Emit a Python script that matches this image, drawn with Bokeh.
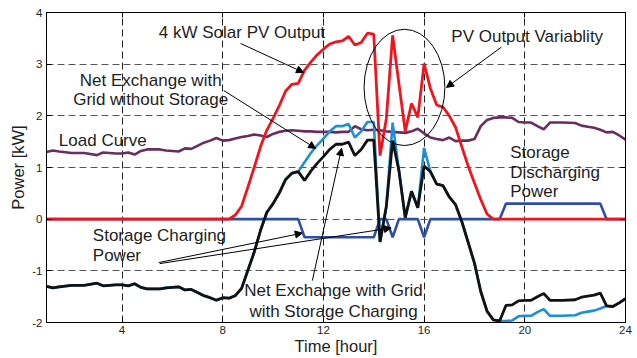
from bokeh.plotting import figure
from bokeh.models import Range1d, FixedTicker, Label, Arrow, NormalHead, LinearAxis
from bokeh.embed import file_html
from bokeh.resources import INLINE

# Time of day [hour]
hours = [1.0, 1.25, 1.5, 2.0, 2.5, 3.0, 3.25, 3.75, 4.0, 4.25, 4.5, 4.75, 5.0, 5.5, 5.75,
         6.25, 6.5, 6.75, 7.0, 7.25, 7.5, 7.75,
         8.0, 8.25, 8.5, 8.75, 9.0, 9.25, 9.5, 9.75, 10.0, 10.25, 10.5, 10.75,
         11.0, 11.25, 11.5, 11.75, 12.0, 12.25, 12.5, 12.75, 13.0, 13.25, 13.5, 13.75,
         14.0, 14.25, 14.5, 14.75, 15.0, 15.25, 15.5, 15.75, 16.0, 16.25, 16.5, 16.75,
         17.0, 17.25, 17.5, 17.75, 18.0, 18.25, 18.5, 18.75,
         19.0, 19.25, 19.5, 19.75, 20.0, 20.25, 20.5, 20.75, 21.0, 21.5,
         22.0, 22.25, 22.5, 22.75, 23.0, 23.25, 23.5, 23.75, 24.0]

# 4 kW rooftop PV output [kW]
pv_output = [0.0] * 24 + [
    0.08, 0.25, 0.62, 1.00, 1.40, 1.72, 1.95, 2.20, 2.48, 2.61,
    2.63, 2.88, 3.04, 3.18, 3.29, 3.39, 3.43, 3.45, 3.54, 3.37, 3.42, 3.60,
    3.58, 1.23, 1.95, 3.56, 2.62, 1.70, 2.24, 1.97, 3.01, 2.53, 2.21, 2.17,
    2.00, 1.78, 1.40, 1.03, 0.70, 0.38, 0.10, 0.0] + [0.0] * 19

# Household load [kW]
load_curve = [1.30, 1.33, 1.31, 1.28, 1.28, 1.24, 1.29, 1.27, 1.27, 1.29, 1.25, 1.32, 1.35, 1.35, 1.33,
              1.31, 1.37, 1.36, 1.42, 1.48, 1.52, 1.57,
              1.52, 1.53, 1.56, 1.59, 1.61, 1.64, 1.62, 1.59, 1.65, 1.69, 1.71, 1.72,
              1.71, 1.70, 1.70, 1.69, 1.69, 1.69, 1.68, 1.69, 1.69, 1.80, 1.74, 1.72,
              1.73, 1.72, 1.70, 1.69, 1.68, 1.67, 1.70, 1.75, 1.66, 1.58, 1.55, 1.53,
              1.58, 1.51, 1.52, 1.52, 1.55, 1.80, 1.92, 1.96,
              1.97, 1.97, 1.96, 1.88, 1.87, 1.87, 1.80, 1.74, 1.87, 1.87,
              1.86, 1.81, 1.79, 1.77, 1.73, 1.68, 1.69, 1.62, 1.54]

# Battery power [kW] (negative = charging, positive = discharging)
storage_power = ([0.0] * 35 + [-0.35] * 12 + [0.0, 0.0, -0.35, 0.0, 0.0, 0.0, 0.0, -0.35]
                 + [0.0] * 12 + [0.3] * 14 + [0.0] * 4)

# Net exchange with the grid, without storage [kW]
net_no_storage = [-1.30, -1.33, -1.31, -1.28, -1.28, -1.24, -1.29, -1.27, -1.27, -1.29, -1.25, -1.32,
                  -1.35, -1.35, -1.33, -1.31, -1.37, -1.36, -1.42, -1.48, -1.52, -1.57,
                  -1.52, -1.53, -1.48, -1.34, -0.99, -0.64, -0.22, 0.13, 0.30, 0.51, 0.77, 0.89,
                  0.92, 1.10, 1.28, 1.43, 1.56, 1.70, 1.80, 1.80, 1.84, 1.58, 1.70, 1.88,
                  1.88, -0.44, 0.25, 1.87, 0.94, 0.03, 0.54, 0.22, 1.38, 0.92, 0.68, 0.65,
                  0.43, 0.28, -0.05, -0.45, -0.85, -1.40, -1.78, -1.95,
                  -1.97, -1.97, -1.96, -1.88, -1.87, -1.87, -1.80, -1.74, -1.87, -1.87,
                  -1.86, -1.81, -1.79, -1.77, -1.73, -1.68, -1.69, -1.62, -1.54]

# Net exchange with the grid, with storage charging/discharging [kW]
net_with_storage = [-1.30, -1.33, -1.31, -1.28, -1.28, -1.24, -1.29, -1.27, -1.27, -1.29, -1.25, -1.32,
                    -1.35, -1.35, -1.33, -1.31, -1.37, -1.36, -1.42, -1.48, -1.52, -1.57,
                    -1.52, -1.53, -1.48, -1.34, -0.99, -0.64, -0.22, 0.13, 0.30, 0.51, 0.77, 0.89,
                    0.92, 0.75, 0.93, 1.08, 1.21, 1.35, 1.45, 1.45, 1.49, 1.23, 1.35, 1.53,
                    1.53, -0.44, 0.25, 1.52, 0.94, 0.03, 0.54, 0.22, 1.03, 0.92, 0.68, 0.65,
                    0.43, 0.28, -0.05, -0.45, -0.85, -1.40, -1.78, -1.95,
                    -1.97, -1.67, -1.66, -1.58, -1.57, -1.57, -1.50, -1.44, -1.57, -1.57,
                    -1.56, -1.51, -1.49, -1.47, -1.43, -1.68, -1.69, -1.62, -1.54]

x_ticks = [4, 8, 12, 16, 20, 24]
y_ticks = [-2, -1, 0, 1, 2, 3, 4]

FONT = "Liberation Sans"
TEXT_COLOR = "#1e1e1e"

p = figure(width=637, height=358, x_range=Range1d(1, 24), y_range=Range1d(-2, 4),
           output_backend="svg", toolbar_location=None,
           min_border_left=46, min_border_right=12, min_border_top=12, min_border_bottom=36)
p.background_fill_color = "white"
p.border_fill_color = "white"
p.outline_line_color = "black"
p.outline_line_width = 1

# axes
p.xaxis.ticker = FixedTicker(ticks=x_ticks)
p.yaxis.ticker = FixedTicker(ticks=y_ticks)
p.yaxis.major_label_overrides = {t: str(t) for t in y_ticks}
for ax in (p.xaxis[0], p.yaxis[0]):
    ax.major_label_text_font = FONT
    ax.major_label_text_font_size = "11.5px"
    ax.major_label_text_color = TEXT_COLOR
    ax.axis_label_text_font = FONT
    ax.axis_label_text_font_size = "16.5px"
    ax.axis_label_text_font_style = "normal"
    ax.axis_label_text_color = TEXT_COLOR
    ax.major_tick_in = 5
    ax.major_tick_out = 0
    ax.minor_tick_line_color = None
    ax.axis_line_color = "black"
    ax.major_tick_line_color = "black"
p.xaxis.axis_label = "Time [hour]"
p.yaxis.axis_label = "Power [kW]"
p.xaxis.major_label_standoff = 3
p.xaxis.axis_label_standoff = 0
p.yaxis.major_label_standoff = 4
p.yaxis.axis_label_standoff = 2

# tick marks on the top and right edges of the box (no labels there)
for side, tk in (("right", y_ticks), ("above", x_ticks)):
    a = LinearAxis(ticker=FixedTicker(ticks=tk), major_label_overrides={t: "" for t in tk},
                   major_tick_in=5, major_tick_out=0, minor_tick_line_color=None,
                   major_label_standoff=0, axis_line_color="black")
    p.add_layout(a, side)

# dashed grid
p.xgrid.ticker = FixedTicker(ticks=[4, 8, 12, 16, 20])
p.ygrid.ticker = FixedTicker(ticks=[-1, 0, 1, 2, 3])
p.xgrid.grid_line_color = "#222222"
p.ygrid.grid_line_color = "#555555"
p.grid.grid_line_dash = "7 4"
p.grid.grid_line_width = 1

# series
p.line(hours, load_curve, line_color="#6b2c5f", line_width=2.6)
p.line(hours, storage_power, line_color="#2f4fa6", line_width=2.6)
p.line(hours, net_no_storage, line_color="#1e8fd3", line_width=2.6)
p.line(hours, net_with_storage, line_color="#121212", line_width=2.8)
p.line(hours, pv_output, line_color="#f0141e", line_width=2.8)

# variability highlight
p.ellipse(x=[15.22], y=[2.55], width=[3.21], height=[2.25], fill_color=None,
          line_color="black", line_width=1)

# arrows
arrows = [
    (8.71, 3.40, 11.21, 2.84),
    (8.04, 2.49, 11.69, 1.37),
    (19.07, 3.33, 16.89, 2.55),
    (5.46, -0.84, 11.16, -0.27),
    (5.50, -0.86, 14.69, -0.17),
    (11.56, -1.19, 12.72, 1.37),
]
for x0, y0, x1, y1 in arrows:
    p.add_layout(Arrow(end=NormalHead(size=7, fill_color="black", line_color="black", line_width=1),
                       x_start=x0, y_start=y0, x_end=x1, y_end=y1,
                       line_color="black", line_width=1))

# annotations
labels = [
    (5.46, 3.62, "4 kW Solar PV Output", "left"),
    (5.14, 2.69, "Net Exchange with", "center"),
    (5.14, 2.32, "Grid without Storage", "center"),
    (1.49, 1.53, "Load Curve", "left"),
    (17.08, 3.54, "PV Output Variablity", "left"),
    (19.42, 1.29, "Storage", "left"),
    (19.42, 0.90, "Discharging", "left"),
    (19.42, 0.53, "Power", "left"),
    (2.84, -0.32, "Storage Charging", "left"),
    (2.84, -0.70, "Power", "left"),
    (12.40, -1.38, "Net Exchange with Grid", "center"),
    (12.40, -1.79, "with Storage Charging", "center"),
]
for x, y, txt, align in labels:
    p.add_layout(Label(x=x, y=y, text=txt, text_font=FONT, text_font_size="17px",
                       text_color=TEXT_COLOR, text_align=align, text_baseline="middle"))

open("out.html", "w").write(file_html(p, INLINE))
